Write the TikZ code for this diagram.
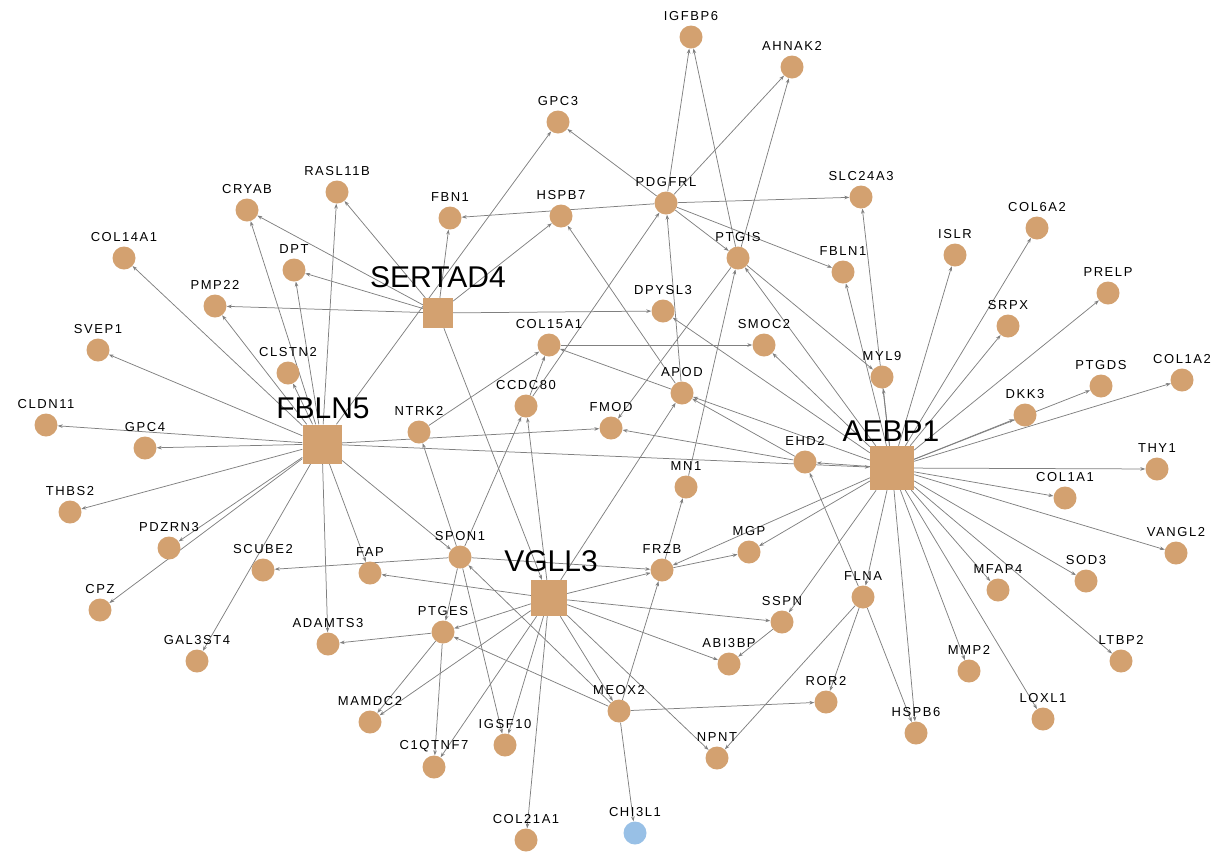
\documentclass[tikz,border=0pt]{standalone}
\usepackage{fontspec}
\setmainfont{Liberation Sans}
\newfontfamily\labfont[LetterSpace=12]{Liberation Sans}
\usetikzlibrary{arrows.meta,backgrounds}
\definecolor{genefill}{RGB}{211,161,112}
\definecolor{bluefill}{RGB}{152,192,230}
\definecolor{edgegrey}{RGB}{128,128,128}
\tikzset{
  gene/.style={circle,fill=genefill,draw=none,minimum size=23pt,inner sep=0pt},
  bluegene/.style={gene,fill=bluefill},
  hub/.style={rectangle,fill=genefill,draw=none,inner sep=0pt},
  lab/.style={font=\labfont\fontsize{13}{14}\selectfont,inner sep=0pt,anchor=center,label distance=9.5pt},
  hublab/.style={font=\fontsize{30}{32}\selectfont,inner sep=0pt,anchor=center},
  edge/.style={draw=edgegrey,line width=0.75pt,-{Stealth[length=5pt,width=3.6pt]}}
}
\newcommand{\gn}[3][gene]{\node[#1,label={[lab]90:#2}] (#2) at (#3) {};}
\begin{document}
\begin{tikzpicture}[x=1pt,y=-1pt]
\useasboundingbox (0,0) rectangle (1216,855);
% hub genes
\node[hub,minimum size=30pt] (SERTAD4) at (438,313) {};
\node[hublab] (SERTAD4-t) at (438,277) {SERTAD4};
\node[hub,minimum size=39pt] (FBLN5) at (322,444) {};
\node[hublab] (FBLN5-t) at (323,408) {FBLN5};
\node[hub,minimum size=44pt] (AEBP1) at (892,468) {};
\node[hublab] (AEBP1-t) at (891,431) {AEBP1};
\node[hub,minimum size=36pt] (VGLL3) at (549,598) {};
\node[hublab] (VGLL3-t) at (551,561) {VGLL3};
% target genes
\gn{IGFBP6}{691,37}
\gn{AHNAK2}{792,67}
\gn{GPC3}{558,122}
\gn{PDGFRL}{666,203}
\gn{FBN1}{450,218}
\gn{HSPB7}{561,216}
\gn{SLC24A3}{861,197}
\gn{PTGIS}{738,258}
\gn{RASL11B}{337,192}
\gn{CRYAB}{247,210}
\gn{COL14A1}{124,258}
\gn{DPT}{294,270}
\gn{PMP22}{215,306}
\gn{FBLN1}{843,272}
\gn{ISLR}{955,255}
\gn{COL6A2}{1037,228}
\gn{PRELP}{1108,293}
\gn{SRPX}{1008,326}
\gn{DPYSL3}{663,311}
\gn{COL15A1}{549,345}
\gn{SMOC2}{764,345}
\gn{MYL9}{882,377}
\gn{PTGDS}{1101,386}
\gn{COL1A2}{1182,380}
\gn{SVEP1}{98,350}
\gn{CLSTN2}{288,373}
\gn{CCDC80}{526,406}
\gn{APOD}{682,393}
\gn{DKK3}{1025,415}
\gn{CLDN11}{46,425}
\gn{GPC4}{145,448}
\gn{NTRK2}{419,432}
\gn{FMOD}{611,428}
\gn{EHD2}{805,462}
\gn{THY1}{1157,469}
\gn{MN1}{686,487}
\gn{COL1A1}{1065,498}
\gn{THBS2}{70,512}
\gn{PDZRN3}{169,548}
\gn{SCUBE2}{263,570}
\gn{FAP}{370,573}
\gn{SPON1}{460,557}
\gn{FRZB}{662,570}
\gn{MGP}{749,552}
\gn{FLNA}{863,597}
\gn{VANGL2}{1176,553}
\gn{SOD3}{1086,581}
\gn{MFAP4}{998,590}
\gn{CPZ}{100,610}
\gn{PTGES}{443,632}
\gn{SSPN}{782,622}
\gn{ADAMTS3}{328,644}
\gn{GAL3ST4}{197,661}
\gn{ABI3BP}{729,664}
\gn{MMP2}{969,671}
\gn{LTBP2}{1121,661}
\gn{MEOX2}{619,711}
\gn{ROR2}{826,702}
\gn{MAMDC2}{370,722}
\gn{LOXL1}{1043,719}
\gn{HSPB6}{916,733}
\gn{IGSF10}{505,745}
\gn{NPNT}{717,758}
\gn{C1QTNF7}{434,767}
\gn{COL21A1}{526,840}
\gn[bluegene]{CHI3L1}{635,833}
% regulatory edges, drawn beneath the nodes
\begin{pgfonlayer}{background}
\foreach \t in {COL14A1,SVEP1,CLDN11,GPC4,THBS2,PDZRN3,CPZ,GAL3ST4,ADAMTS3,FAP,SPON1,CRYAB,DPT,RASL11B,PMP22,CLSTN2,GPC3,FMOD,AEBP1}
  \draw[edge] (FBLN5) -- (\t);
\foreach \t in {CRYAB,RASL11B,DPT,PMP22,DPYSL3,FBN1,HSPB7,VGLL3}
  \draw[edge] (SERTAD4) -- (\t);
\foreach \t in {FRZB,FAP,PTGES,MAMDC2,C1QTNF7,IGSF10,COL21A1,MEOX2,NPNT,ABI3BP,SSPN,CCDC80,APOD}
  \draw[edge] (VGLL3) -- (\t);
\foreach \t in {MYL9,ISLR,COL6A2,SRPX,PRELP,PTGDS,COL1A2,DKK3,THY1,COL1A1,VANGL2,SOD3,MFAP4,LTBP2,LOXL1,MMP2,HSPB6,FLNA,SLC24A3,FBLN1,PTGIS,SMOC2,APOD,DPYSL3,EHD2,MGP,FRZB,SSPN}
  \draw[edge] (AEBP1) -- (\t);
\foreach \s/\t in {PDGFRL/IGFBP6,PDGFRL/AHNAK2,PDGFRL/GPC3,PDGFRL/FBN1,PDGFRL/SLC24A3,PDGFRL/FBLN1,PDGFRL/PTGIS,
  PTGIS/IGFBP6,PTGIS/AHNAK2,PTGIS/FMOD,PTGIS/MYL9,
  APOD/PDGFRL,APOD/HSPB7,APOD/COL15A1,EHD2/FMOD,EHD2/APOD,
  CCDC80/COL15A1,CCDC80/PDGFRL,COL15A1/SMOC2,NTRK2/COL15A1,
  SPON1/NTRK2,SPON1/CCDC80,SPON1/FRZB,SPON1/SCUBE2,SPON1/IGSF10,SPON1/PTGES,
  MEOX2/SPON1,MEOX2/PTGES,MEOX2/FRZB,MEOX2/ROR2,MEOX2/CHI3L1,
  PTGES/ADAMTS3,PTGES/MAMDC2,PTGES/C1QTNF7,
  FRZB/MN1,FRZB/MGP,MN1/PTGIS,
  FLNA/ROR2,FLNA/NPNT,FLNA/HSPB6,FLNA/EHD2,SSPN/ABI3BP}
  \draw[edge] (\s) -- (\t);
\end{pgfonlayer}
\end{tikzpicture}
\end{document}
